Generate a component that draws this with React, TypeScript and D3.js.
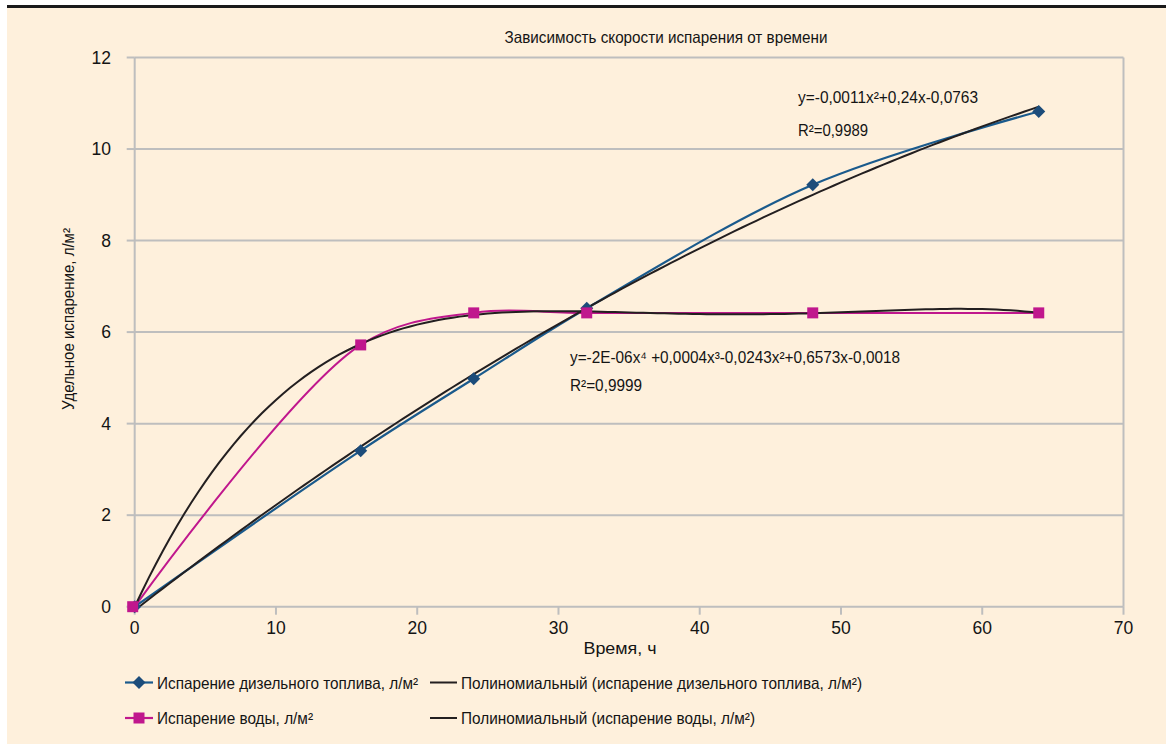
import React from 'react';
import * as d3 from 'd3';

// ---- Data ----
const timeHours = [0, 16, 24, 32, 48, 64];
const dieselValues = [0, 3.41, 4.98, 6.52, 9.22, 10.82];
const waterValues = [0, 5.72, 6.42, 6.42, 6.42, 6.42];
const xTicks = [0, 10, 20, 30, 40, 50, 60, 70];
const yTicks = [0, 2, 4, 6, 8, 10, 12];

const chartTitle = 'Зависимость скорости испарения от времени';
const xAxisTitle = 'Время, ч';
const yAxisTitle = 'Удельное испарение, л/м²';
const dieselName = 'Испарение дизельного топлива, л/м²';
const waterName = 'Испарение воды, л/м²';
const dieselTrendName = 'Полиномиальный (испарение дизельного топлива, л/м²)';
const waterTrendName = 'Полиномиальный (испарение воды, л/м²)';
const dieselEq = 'y=-0,0011x²+0,24x-0,0763';
const dieselR2 = 'R²=0,9989';
const waterEq = 'y=-2E-06x⁴ +0,0004x³-0,0243x²+0,6573x-0,0018';
const waterR2 = 'R²=0,9999';

const FONT = "'Liberation Sans Narrow', 'Arial Narrow', 'Liberation Sans', Arial, 'DejaVu Sans', sans-serif";
const BG = '#FEF0DC';
const GRID = '#BEBEBE';
const BLUE_LINE = '#1A5A8C';
const BLUE_MARK = '#1C4C7A';
const PINK = '#C0178D';
const TREND = '#231F20';
const INK = '#141414';

// least-squares polynomial fit (same as a spreadsheet trendline)
function polyfit(xs: number[], ys: number[], degree: number, scale: number) {
  const n = degree + 1;
  const M: number[][] = Array.from({ length: n }, () => new Array(n + 1).fill(0));
  xs.forEach((x, k) => {
    const u = x / scale;
    const pw = Array.from({ length: n }, (_, i) => Math.pow(u, i));
    for (let i = 0; i < n; i++) {
      for (let j = 0; j < n; j++) M[i][j] += pw[i] * pw[j];
      M[i][n] += pw[i] * ys[k];
    }
  });
  for (let c = 0; c < n; c++) {
    let p = c;
    for (let r = c + 1; r < n; r++) if (Math.abs(M[r][c]) > Math.abs(M[p][c])) p = r;
    [M[c], M[p]] = [M[p], M[c]];
    for (let r = 0; r < n; r++) {
      if (r === c) continue;
      const f = M[r][c] / M[c][c];
      for (let k = c; k <= n; k++) M[r][k] -= f * M[c][k];
    }
  }
  const coef = M.map((row, i) => row[n] / row[i]);
  return (x: number) => coef.reduce((s, a, i) => s + a * Math.pow(x / scale, i), 0);
}

export default function App() {
  const W = 1166, H = 744;
  const x = d3.scaleLinear().domain([0, 70]).range([134.7, 1123.5]);
  const y = d3.scaleLinear().domain([0, 12]).range([606.7, 57.5]);
  const fs = 16.5;

  const pts = (vals: number[]) => timeHours.map((t, i) => [t, vals[i]] as [number, number]);
  const smooth = d3.line<[number, number]>().x(d => x(d[0])).y(d => y(d[1])).curve(d3.curveCatmullRom.alpha(0.5));
  const straight = d3.line<[number, number]>().x(d => x(d[0])).y(d => y(d[1]));

  const fD = polyfit(timeHours, dieselValues, 2, 64);
  const fW = polyfit(timeHours, waterValues, 4, 64);
  const xs = d3.range(0, 64.001, 0.5);
  const trendD = xs.map(t => [t, fD(t)] as [number, number]);
  const trendW = xs.map(t => [t, fW(t)] as [number, number]);

  const diamond = (cx: number, cy: number, r: number, key?: any) => (
    <path key={key} d={`M${cx},${cy - r}L${cx + r},${cy}L${cx},${cy + r}L${cx - r},${cy}Z`} fill={BLUE_MARK} />
  );
  const square = (cx: number, cy: number, s: number, key?: any) => (
    <rect key={key} x={cx - s / 2} y={cy - s / 2} width={s} height={s} fill={PINK} />
  );

  const x0 = x(0), x1 = x(70), yb = y(0), yt = y(12);

  const T = (props: any) => (
    <text fontSize={fs} fill={INK} lengthAdjust="spacingAndGlyphs" {...props} />
  );

  return (
    <svg width={W} height={H} style={{ position: 'absolute', left: 0, top: 0 }} fontFamily={FONT}>
      <rect x={0} y={0} width={W} height={H} fill="#fff" />
      <rect x={7} y={5} width={W - 7} height={3} fill="#1a1a1a" />
      <rect x={7} y={8} width={W - 7} height={H - 8} fill={BG} />

      {/* title */}
      <T x={666} y={43} textAnchor="middle" textLength={323}>{chartTitle}</T>

      {/* grid */}
      {yTicks.filter(v => v > 0).map(v => (
        <line key={'g' + v} x1={x0} x2={x1} y1={y(v)} y2={y(v)} stroke={GRID} strokeWidth={2} />
      ))}
      <line x1={x1} x2={x1} y1={yt} y2={yb} stroke={GRID} strokeWidth={2} />
      {/* axes */}
      <line x1={x0} x2={x0} y1={yt} y2={yb} stroke={GRID} strokeWidth={2} />
      <line x1={x0 - 8} x2={x1} y1={yb} y2={yb} stroke={GRID} strokeWidth={2} />
      {yTicks.map(v => (
        <g key={'yt' + v}>
          <line x1={x0 - 8} x2={x0} y1={y(v)} y2={y(v)} stroke={GRID} strokeWidth={2} />
          <text x={111} y={y(v) + 6.3} textAnchor="end" fontSize={17.5} fill={INK}>{v}</text>
        </g>
      ))}
      {xTicks.map(v => (
        <g key={'xt' + v}>
          <line x1={x(v)} x2={x(v)} y1={yb} y2={yb + 8} stroke={GRID} strokeWidth={2} />
          <text x={x(v)} y={634} textAnchor="middle" fontSize={17.5} fill={INK}>{v}</text>
        </g>
      ))}

      {/* axis titles */}
      <T x={620} y={654} textAnchor="middle" textLength={73}>{xAxisTitle}</T>
      <T transform="translate(74,319) rotate(-90)" textAnchor="middle" textLength={182}>{yAxisTitle}</T>

      {/* series lines */}
      <path d={smooth(pts(dieselValues)) || ''} fill="none" stroke={BLUE_LINE} strokeWidth={2.2} />
      <path d={smooth(pts(waterValues)) || ''} fill="none" stroke={PINK} strokeWidth={2} />
      {/* trendlines */}
      <path d={straight(trendD) || ''} fill="none" stroke={TREND} strokeWidth={2} />
      <path d={straight(trendW) || ''} fill="none" stroke={TREND} strokeWidth={2} />
      {/* markers */}
      {timeHours.map((t, i) => diamond(x(t), y(dieselValues[i]), 6.5, 'd' + i))}
      {timeHours.map((t, i) => square(x(t) - (i === 0 ? 2 : 0), y(waterValues[i]), 11, 's' + i))}

      {/* equations */}
      <T x={798} y={103} textLength={180}>{dieselEq}</T>
      <T x={798} y={136} textLength={70}>{dieselR2}</T>
      <T x={570} y={362.5} textLength={330}>{waterEq}</T>
      <T x={570} y={390.5} textLength={72}>{waterR2}</T>

      {/* legend */}
      <line x1={125} x2={153} y1={682.5} y2={682.5} stroke={BLUE_LINE} strokeWidth={2.2} />
      {diamond(139, 682.5, 6.5)}
      <T x={157} y={688.5} textLength={261}>{dieselName}</T>
      <line x1={430} x2={457} y1={682.5} y2={682.5} stroke={TREND} strokeWidth={2} />
      <T x={461} y={688.5} textLength={401}>{dieselTrendName}</T>

      <line x1={125} x2={153} y1={718} y2={718} stroke={PINK} strokeWidth={2.2} />
      {square(139, 718, 11)}
      <T x={157} y={724} textLength={156}>{waterName}</T>
      <line x1={430} x2={457} y1={718} y2={718} stroke={TREND} strokeWidth={2} />
      <T x={461} y={724} textLength={294}>{waterTrendName}</T>
    </svg>
  );
}
